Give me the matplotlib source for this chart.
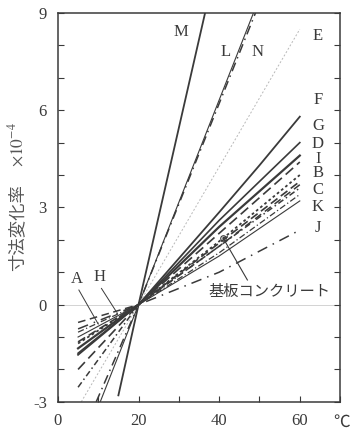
import matplotlib
matplotlib.use("Agg")
import matplotlib.pyplot as plt

plt.rcParams['font.family'] = ['Liberation Serif', 'Noto Sans CJK JP']
plt.rcParams['mathtext.fontset'] = 'stix'

# temperature (°C) and dimensional change (x1e-4) for each series
x_M = [15.0, 20, 36.5]
y_M = [-2.8, 0, 9.0]
x_L = [10.5, 20, 48.5]
y_L = [-3.0, 0, 9.0]
x_N = [9.5, 20, 49.0]
y_N = [-3.0, 0, 9.0]
x_E = [5.8, 20, 60]
y_E = [-3.0, 0, 8.5]
x_F = [5, 20, 40, 50, 60]
y_F = [-1.55, 0, 2.85, 4.3, 5.8]
x_G = [5, 20, 40, 60]
y_G = [-1.5, 0, 2.6, 5.0]
x_D = [5, 20, 40, 60]
y_D = [-1.35, 0, 2.4, 4.6]
x_I = [5, 20, 40, 60]
y_I = [-2.0, 0, 2.2, 4.4]
x_B = [5, 20, 40, 60]
y_B = [-1.15, 0, 1.9, 3.8]
x_C = [5, 20, 40, 60]
y_C = [-2.55, 0, 1.8, 3.6]
x_K = [5, 20, 40, 60]
y_K = [-1.0, 0, 1.5, 3.2]
x_J = [5, 20, 40, 60]
y_J = [-0.75, 0, 1.0, 2.3]
x_A = [5, 20, 40, 60]
y_A = [-0.85, 0, 1.6, 3.4]
x_H = [5, 20, 40, 60]
y_H = [-0.55, 0, 1.8, 3.7]
x_base = [5, 20, 41, 60]
y_base = [-1.2, 0, 2.05, 4.0]

labels_right = ['E', 'F', 'G', 'D', 'I', 'B', 'C', 'K', 'J']
labels_right_y = [8.3, 6.3, 5.5, 4.95, 4.5, 4.05, 3.55, 3.0, 2.35]

xticks = [0, 10, 20, 30, 40, 50, 60, 70]
xtick_labels = ['0', '', '20', '', '40', '', '60', '']
yticks = list(range(-3, 10))
ytick_labels = ['-3', '', '', '0', '', '', '3', '', '', '6', '', '', '9']

fig = plt.figure(figsize=(3.51, 4.33), dpi=100)
ax = fig.add_axes([0.165, 0.072, 0.804, 0.898])

dark = '#3a3a3a'
ax.axhline(0, color='#cccccc', lw=0.6, zorder=0)

ax.plot(x_M, y_M, color=dark, lw=1.3, ls='-')
ax.plot(x_L, y_L, color=dark, lw=0.8, ls='-')
ax.plot(x_N, y_N, color=dark, lw=1.1, ls=(0, (6, 3, 1, 3)))
ax.plot(x_E, y_E, color='#b8b8b8', lw=0.7, ls=(0, (2, 2)))
ax.plot(x_F, y_F, color=dark, lw=1.3, ls='-')
ax.plot(x_G, y_G, color=dark, lw=1.2, ls='-')
ax.plot(x_D, y_D, color=dark, lw=1.6, ls='-')
ax.plot(x_I, y_I, color=dark, lw=1.2, ls=(0, (6, 3)))
ax.plot(x_B, y_B, color=dark, lw=1.2, ls=(0, (5, 2.5)))
ax.plot(x_C, y_C, color=dark, lw=1.1, ls=(0, (4, 2, 1, 2)))
ax.plot(x_K, y_K, color=dark, lw=0.8, ls='-')
ax.plot(x_J, y_J, color=dark, lw=1.1, ls=(0, (7, 4, 1, 4)))
ax.plot(x_A, y_A, color=dark, lw=0.9, ls=(0, (5, 2, 1, 2)))
ax.plot(x_H, y_H, color=dark, lw=1.1, ls=(0, (5, 3)))
ax.plot(x_base, y_base, color=dark, lw=1.3, ls=(0, (1.5, 1.5)))

fs = 12
ax.text(30.5, 8.4, 'M', fontsize=fs, ha='center', va='center', color=dark)
ax.text(41.6, 7.8, 'L', fontsize=fs, ha='center', va='center', color=dark)
ax.text(49.5, 7.8, 'N', fontsize=fs, ha='center', va='center', color=dark)
for lab, yy in zip(labels_right, labels_right_y):
    ax.text(64.5, yy, lab, fontsize=fs, ha='center', va='center', color=dark)
ax.text(4.7, 0.8, 'A', fontsize=fs, ha='center', va='center', color=dark)
ax.text(10.2, 0.85, 'H', fontsize=fs, ha='center', va='center', color=dark)
ax.plot([5.2, 10.0], [0.45, -0.6], color=dark, lw=0.7)
ax.plot([10.8, 14.5], [0.5, -0.22], color=dark, lw=0.7)

ax.text(52.5, 0.4, '基板コンクリート', fontsize=11, ha='center', va='center',
        color=dark, family=['Noto Sans CJK JP'])
ax.plot([41, 47], [2.05, 0.76], color=dark, lw=0.8)
ax.plot([41], [2.05], marker='o', ms=4, mfc='none', mec=dark, mew=0.8)

ax.set_xlim(0, 70)
ax.set_ylim(-3, 9)
ax.set_xticks(xticks)
ax.set_xticklabels(xtick_labels, fontsize=12, color=dark)
ax.set_yticks(yticks)
ax.set_yticklabels(ytick_labels, fontsize=12, color=dark)
ax.tick_params(axis='x', direction='in', length=4, width=0.8, pad=8, colors=dark)
ax.tick_params(axis='y', direction='in', length=4, width=0.8, right=True, pad=8, colors=dark)
ax.tick_params(axis='both', labelcolor=dark)
for s in ax.spines.values():
    s.set_color(dark)
    s.set_linewidth(1.1)

fig.text(350 / 351, 1 - 422 / 433, '℃', fontsize=12, ha='right', va='center',
         color=dark, family=['Noto Sans CJK JP'])

# y-axis label: CJK part and the exponent part
fig.text(17 / 351, 1 - 228 / 433, '寸法変化率', rotation=90, fontsize=12.5,
         ha='center', va='center', color='#555555', family=['Noto Sans CJK JP'])
fig.text(17 / 351, 1 - 145 / 433, r'$\times10^{-4}$', rotation=90, fontsize=12.5,
         ha='center', va='center', color='#555555')

fig.savefig('out.png', dpi=100)
